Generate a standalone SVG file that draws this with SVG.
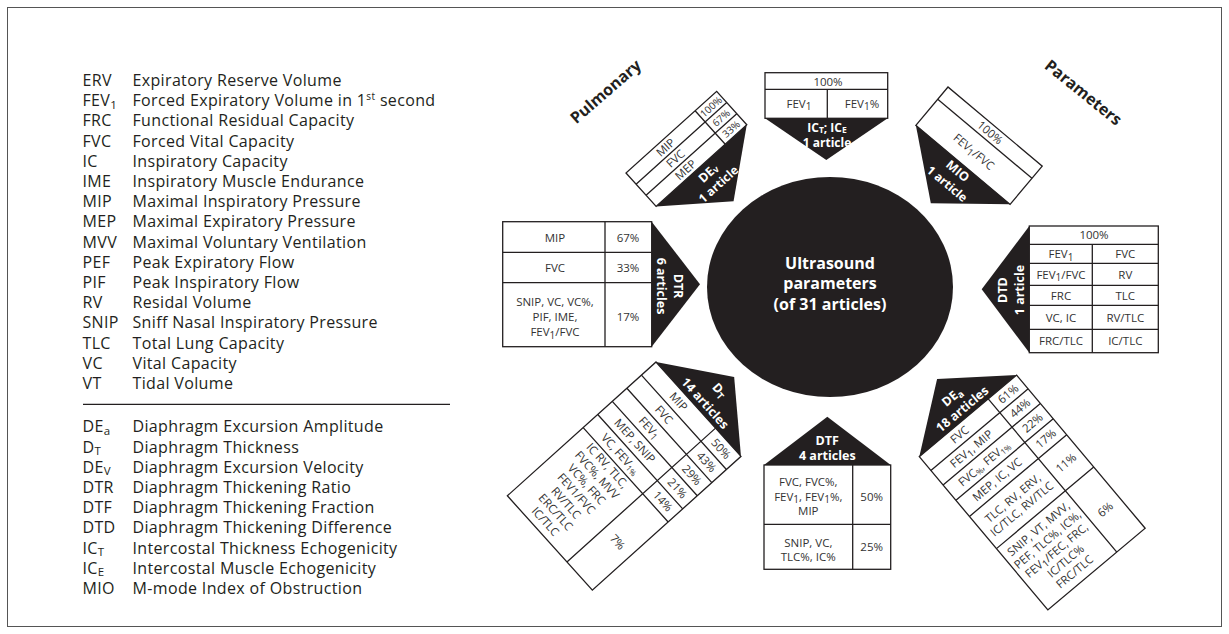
<svg xmlns="http://www.w3.org/2000/svg" width="1229" height="634" viewBox="0 0 1229 634">
<defs>
<style>
.lg{font-family:"Open Sans","Liberation Sans",sans-serif;font-size:16px;letter-spacing:0.35px;fill:#231f20}
.t{font-family:"Open Sans","Liberation Sans",sans-serif;font-size:11.5px;fill:#333;text-anchor:middle}
.s{font-size:10px}
.w{font-family:"Open Sans","Liberation Sans",sans-serif;font-size:12.5px;font-weight:bold;fill:#fff;text-anchor:middle}
.h{font-family:"Open Sans","Liberation Sans",sans-serif;font-size:16px;font-weight:bold;fill:#231f20;text-anchor:middle}
.cell{fill:#fff;stroke:#231f20;stroke-width:1.3}
.ln{stroke:#231f20;stroke-width:1.3;fill:none}
.blk{fill:#231f20}
</style>
</defs>
<rect x="7.5" y="7.5" width="1214" height="619" fill="none" stroke="#555" stroke-width="1"/>

<g id="legend">
<g class="lg">
<text x="82.5" y="86">ERV</text><text x="132.5" y="86">Expiratory Reserve Volume</text>
<text x="82.5" y="106.2">FEV<tspan font-size="11.5" dy="2.5">1</tspan></text><text x="132.5" y="106.2">Forced Expiratory Volume in 1<tspan font-size="10" dy="-6">st</tspan><tspan dy="6"> second</tspan></text>
<text x="82.5" y="126.4">FRC</text><text x="132.5" y="126.4">Functional Residual Capacity</text>
<text x="82.5" y="146.6">FVC</text><text x="132.5" y="146.6">Forced Vital Capacity</text>
<text x="82.5" y="166.8">IC</text><text x="132.5" y="166.8">Inspiratory Capacity</text>
<text x="82.5" y="187">IME</text><text x="132.5" y="187">Inspiratory Muscle Endurance</text>
<text x="82.5" y="207.2">MIP</text><text x="132.5" y="207.2">Maximal Inspiratory Pressure</text>
<text x="82.5" y="227.4">MEP</text><text x="132.5" y="227.4">Maximal Expiratory Pressure</text>
<text x="82.5" y="247.6">MVV</text><text x="132.5" y="247.6">Maximal Voluntary Ventilation</text>
<text x="82.5" y="267.8">PEF</text><text x="132.5" y="267.8">Peak Expiratory Flow</text>
<text x="82.5" y="288">PIF</text><text x="132.5" y="288">Peak Inspiratory Flow</text>
<text x="82.5" y="308.2">RV</text><text x="132.5" y="308.2">Residal Volume</text>
<text x="82.5" y="328.4">SNIP</text><text x="132.5" y="328.4">Sniff Nasal Inspiratory Pressure</text>
<text x="82.5" y="348.6">TLC</text><text x="132.5" y="348.6">Total Lung Capacity</text>
<text x="82.5" y="368.8">VC</text><text x="132.5" y="368.8">Vital Capacity</text>
<text x="82.5" y="389">VT</text><text x="132.5" y="389">Tidal Volume</text>
<text x="82.5" y="432.4">DE<tspan font-size="11.5" dy="2.5">a</tspan></text><text x="132.5" y="432.4">Diaphragm Excursion Amplitude</text>
<text x="82.5" y="452.6">D<tspan font-size="11.5" dy="2.5">T</tspan></text><text x="132.5" y="452.6">Diaphragm Thickness</text>
<text x="82.5" y="472.8">DE<tspan font-size="11.5" dy="2.5">V</tspan></text><text x="132.5" y="472.8">Diaphragm Excursion Velocity</text>
<text x="82.5" y="493">DTR</text><text x="132.5" y="493">Diaphragm Thickening Ratio</text>
<text x="82.5" y="513.2">DTF</text><text x="132.5" y="513.2">Diaphragm Thickening Fraction</text>
<text x="82.5" y="533.4">DTD</text><text x="132.5" y="533.4">Diaphragm Thickening Difference</text>
<text x="82.5" y="553.6">IC<tspan font-size="11.5" dy="2.5">T</tspan></text><text x="132.5" y="553.6">Intercostal Thickness Echogenicity</text>
<text x="82.5" y="573.8">IC<tspan font-size="11.5" dy="2.5">E</tspan></text><text x="132.5" y="573.8">Intercostal Muscle Echogenicity</text>
<text x="82.5" y="594">MIO</text><text x="132.5" y="594">M-mode Index of Obstruction</text>
</g>
<line x1="83" y1="404.3" x2="450" y2="404.3" stroke="#231f20" stroke-width="1.3"/>
</g>

<g id="titles">
<text class="h" transform="translate(606,92) rotate(-41)" y="5">Pulmonary</text>
<text class="h" transform="translate(1083,93) rotate(39)" y="5">Parameters</text>
</g>

<g id="connectors"></g>

<g id="node-center">
<ellipse cx="830" cy="287" rx="123" ry="110" class="blk"/>
<text class="w" style="font-size:16px" x="830" y="268.5">Ultrasound</text>
<text class="w" style="font-size:16px" x="830" y="289">parameters</text>
<text class="w" style="font-size:16px" x="830" y="309.5">(of 31 articles)</text>
</g>

<g id="node-ict">
<rect x="765" y="72.7" width="122.7" height="45.6" class="cell"/>
<line x1="765" y1="89.3" x2="887.7" y2="89.3" class="ln"/>
<line x1="827.3" y1="89.3" x2="827.3" y2="118.3" class="ln"/>
<polygon points="765,118.3 887.7,118.3 826.3,160" class="blk"/>
<text class="t" x="828" y="85.8">100%</text>
<text class="t" x="799" y="107.5">FEV<tspan class="s" dy="2.5">1</tspan></text>
<text class="t" x="862" y="107.5">FEV<tspan class="s" dy="2.5">1</tspan><tspan dy="-2.5">%</tspan></text>
<text class="w" style="font-size:12px" x="827" y="131.5">IC<tspan font-size="8.5" dy="1.5">T</tspan><tspan dy="-1.5">; IC</tspan><tspan font-size="8.5" dy="1.5">E</tspan></text>
<text class="w" style="font-size:12px" x="827" y="146.5">1 article</text>
</g>

<g id="node-dtd">
<rect x="1029.3" y="226" width="129" height="126.7" class="cell"/>
<path class="ln" d="M1029.3 244.3H1158.3M1029.3 263.3H1158.3M1029.3 285.3H1158.3M1029.3 305.3H1158.3M1029.3 329.3H1158.3M1092.3 244.3V352.7"/>
<polygon points="1029.3,226 1029.3,352.7 981.7,289.3" class="blk"/>
<text class="t" x="1094" y="239.2">100%</text>
<text class="t" x="1061" y="258">FEV<tspan class="s" dy="2.5">1</tspan></text>
<text class="t" x="1125.3" y="258">FVC</text>
<text class="t" x="1061" y="278.5">FEV<tspan class="s" dy="2.5">1</tspan><tspan dy="-2.5">/FVC</tspan></text>
<text class="t" x="1125.3" y="278.5">RV</text>
<text class="t" x="1061" y="299.5">FRC</text>
<text class="t" x="1125.3" y="299.5">TLC</text>
<text class="t" x="1061" y="321.5">VC, IC</text>
<text class="t" x="1125.3" y="321.5">RV/TLC</text>
<text class="t" x="1061" y="345.2">FRC/TLC</text>
<text class="t" x="1125.3" y="345.2">IC/TLC</text>
<text class="w" transform="translate(1002.5,290) rotate(-90)" y="4.5">DTD</text>
<text class="w" transform="translate(1019,290) rotate(-90)" y="4.5">1 article</text>
</g>

<g id="node-dtr">
<rect x="502.7" y="221.7" width="149" height="125" class="cell"/>
<path class="ln" d="M502.7 252.3H651.7M502.7 282.7H651.7M605 221.7V346.7"/>
<polygon points="651.7,221.7 651.7,346.7 700,284.2" class="blk"/>
<text class="t" x="555" y="241.5">MIP</text>
<text class="t" x="628" y="241.5">67%</text>
<text class="t" x="555" y="272">FVC</text>
<text class="t" x="628" y="272">33%</text>
<text class="t" x="555" y="306">SNIP, VC, VC%,</text>
<text class="t" x="555" y="321">PIF, IME,</text>
<text class="t" x="555" y="336">FEV<tspan class="s" dy="2.5">1</tspan><tspan dy="-2.5">/FVC</tspan></text>
<text class="t" x="628" y="321">17%</text>
<text class="w" transform="translate(678.3,286) rotate(90)" y="4.5">DTR</text>
<text class="w" transform="translate(661.7,286) rotate(90)" y="4.5">6 articles</text>
</g>

<g id="node-dtf">
<rect x="764" y="465" width="126.7" height="104.3" class="cell"/>
<path class="ln" d="M764 524.3H890.7M852.7 465V569.3"/>
<polygon points="764,465 890.7,465 827.3,416.7" class="blk"/>
<text class="w" x="827.3" y="444.5">DTF</text>
<text class="w" x="827.3" y="459.5">4 articles</text>
<text class="t" x="808.3" y="485.8">FVC, FVC%,</text>
<text class="t" x="808.3" y="500.5">FEV<tspan class="s" dy="2.5">1</tspan><tspan dy="-2.5">, FEV</tspan><tspan class="s" dy="2.5">1</tspan><tspan dy="-2.5">%,</tspan></text>
<text class="t" x="808.3" y="514.5">MIP</text>
<text class="t" x="871.7" y="501.3">50%</text>
<text class="t" x="808.3" y="546.5">SNIP, VC,</text>
<text class="t" x="808.3" y="560.5">TLC%, IC%</text>
<text class="t" x="871.7" y="551.3">25%</text>
</g>

<g id="node-dev" transform="translate(626,173) rotate(-42)">
<rect x="0" y="0" width="122" height="45" class="cell"/>
<path class="ln" d="M0 15H122M0 30H122M93 0V45"/>
<polygon points="0,45 122,45 61,93" class="blk"/>
<text class="t" x="46.5" y="11.5">MIP</text>
<text class="t" x="46.5" y="26.5">FVC</text>
<text class="t" x="46.5" y="41.5">MEP</text>
<text class="t s" x="107.5" y="11.3">100%</text>
<text class="t s" x="107.5" y="26.3">67%</text>
<text class="t s" x="107.5" y="41.3">33%</text>
<text class="w" x="61" y="59.5">DE<tspan font-size="9" dy="1">v</tspan></text>
<text class="w" style="font-size:12px" x="61" y="74.5">1 article</text>
</g>

<g id="node-mio" transform="translate(948,87) rotate(40)">
<rect x="0" y="0" width="123" height="50" class="cell"/>
<path class="ln" d="M0 16H123"/>
<polygon points="0,50 123,50 61.5,100" class="blk"/>
<text class="t" x="61.5" y="12">100%</text>
<text class="t" x="61.5" y="37">FEV<tspan class="s" dy="2.5">1</tspan><tspan dy="-2.5">/FVC</tspan></text>
<text class="w" x="61.5" y="62.5">MIO</text>
<text class="w" style="font-size:12px" x="61.5" y="79">1 article</text>
</g>

<g id="node-dt" transform="translate(656,362) rotate(48)">
<rect x="0" y="0" width="127" height="200" class="cell"/>
<path class="ln" d="M0 19.6H127M0 39.2H127M0 58.8H127M0 78.4H127M0 98H127M89 0V200"/>
<polygon points="0,0 127,0 63.5,-48" class="blk"/>
<text class="w" x="63.5" y="-24">D<tspan font-size="9.5" dy="2.5">T</tspan></text>
<text class="w" x="63.5" y="-4.5">14 articles</text>
<text class="t" x="44.5" y="13.8">MIP</text>
<text class="t" x="44.5" y="33.4">FVC</text>
<text class="t" x="44.5" y="53">FEV<tspan class="s" dy="2.5">1</tspan></text>
<text class="t" x="44.5" y="72.6">MEP, SNIP</text>
<text class="t" x="44.5" y="92.2">VC, FEV<tspan font-size="8" dy="2">1%</tspan></text>
<text class="t" x="44.5" y="109.5">IC RV, TLC,</text>
<text class="t" x="44.5" y="123.4">FVC%, MVV</text>
<text class="t" x="44.5" y="137.3">VC%, FRC</text>
<text class="t" x="44.5" y="151.2">FEV1/FVC</text>
<text class="t" x="44.5" y="165.1">RV/TLC</text>
<text class="t" x="44.5" y="179">ERC/TLC</text>
<text class="t" x="44.5" y="192.9">IC/TLC</text>
<text class="t" x="108" y="13.8">50%</text>
<text class="t" x="108" y="33.4">43%</text>
<text class="t" x="108" y="53">29%</text>
<text class="t" x="108" y="72.6">21%</text>
<text class="t" x="108" y="92.2">14%</text>
<text class="t" x="108" y="153">7%</text>
</g>

<g id="node-dea" transform="translate(919.3,456.7) rotate(-40)">
<rect x="0" y="0" width="127" height="200" class="cell"/>
<path class="ln" d="M0 18H127M0 37H127M0 57H127M0 78H127M0 120H127M90 0V200"/>
<polygon points="0,0 127,0 63.5,-48" class="blk"/>
<text class="w" x="63.5" y="-20.5">DE<tspan font-size="9.5" dy="2.5">a</tspan></text>
<text class="w" x="63.5" y="-4.5">18 articles</text>
<text class="t" x="45" y="13">FVC</text>
<text class="t" x="45" y="31.5">FEV<tspan class="s" dy="2.5">1</tspan><tspan dy="-2.5">, MIP</tspan></text>
<text class="t" x="45" y="51">FVC<tspan font-size="8" dy="2">%</tspan><tspan dy="-2">, FEV</tspan><tspan font-size="8" dy="2">1%</tspan></text>
<text class="t" x="45" y="71.5">MEP, IC, VC</text>
<text class="t" x="45" y="96">TLC, RV, ERV,</text>
<text class="t" x="45" y="110">IC/TLC, RV/TLC</text>
<text class="t" x="45" y="136">SNIP, VT, MVV,</text>
<text class="t" x="45" y="150">PEF, TLC%, IC%,</text>
<text class="t" x="45" y="164">FEV<tspan class="s" dy="2.5">1</tspan><tspan dy="-2.5">/FEC, FRC,</tspan></text>
<text class="t" x="45" y="178">IC/TLC%</text>
<text class="t" x="45" y="192">FRC/TLC</text>
<text class="t" x="108.5" y="13">61%</text>
<text class="t" x="108.5" y="31.5">44%</text>
<text class="t" x="108.5" y="51">22%</text>
<text class="t" x="108.5" y="71.5">17%</text>
<text class="t" x="108.5" y="103">11%</text>
<text class="t" x="108.5" y="164">6%</text>
</g>
</svg>
